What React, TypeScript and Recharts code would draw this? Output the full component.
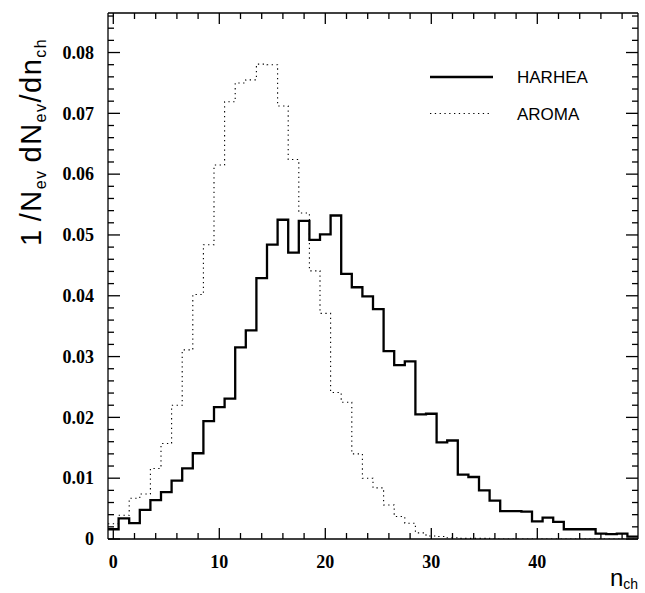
import { ComposedChart, Line, XAxis, YAxis, Legend } from "recharts";

// bin centres n_ch = 0..49 (bin width 1)
const nch = [
  0, 1, 2, 3, 4, 5, 6, 7, 8, 9, 10, 11, 12, 13, 14, 15, 16, 17, 18, 19, 20, 21, 22, 23, 24,
  25, 26, 27, 28, 29, 30, 31, 32, 33, 34, 35, 36, 37, 38, 39, 40, 41, 42, 43, 44, 45, 46, 47, 48, 49,
];

const harhea = [
  0.0016, 0.0034, 0.0026, 0.0048, 0.0064, 0.0077, 0.0096, 0.0116, 0.0141, 0.0194,
  0.0217, 0.0231, 0.0315, 0.0343, 0.0429, 0.0484, 0.0525, 0.0471, 0.0523, 0.0492,
  0.0501, 0.0532, 0.0436, 0.0414, 0.0399, 0.0378, 0.0309, 0.0286, 0.0292, 0.0205,
  0.0206, 0.0159, 0.0162, 0.0106, 0.0102, 0.008, 0.0063, 0.0046, 0.0046, 0.0045,
  0.0029, 0.0035, 0.0028, 0.0016, 0.0016, 0.0016, 0.0009, 0.0008, 0.0009, 0.0004,
];

const aroma = [
  0.0025, 0.0039, 0.0067, 0.0074, 0.0116, 0.0157, 0.022, 0.0311, 0.0402, 0.0484,
  0.0615, 0.0719, 0.075, 0.0755, 0.0781, 0.078, 0.0712, 0.0624, 0.0536, 0.0441,
  0.0371, 0.0241, 0.0225, 0.014, 0.01, 0.0084, 0.0056, 0.0037, 0.0026, 0.001,
  0.0005, 0.0004, 0.0002, 0.0001, 0.0001, 0.0001, 0, 0, 0, 0,
  0, 0, 0, 0, 0, 0, 0, 0, 0, 0,
];

const seriesNames = ["HARHEA", "AROMA"];
const xMajor = [0, 10, 20, 30, 40];
const yMajorLabels = ["0", "0.01", "0.02", "0.03", "0.04", "0.05", "0.06", "0.07", "0.08"];

const xTicks = Array.from({ length: 25 }, (_, i) => i * 2);
const yTicks = Array.from({ length: 44 }, (_, i) => +(i * 0.002).toFixed(3));

// histogram edges: each bin drawn from n-0.5 to n+0.5
const data = nch.map((n, i) => ({ x: n - 0.5, harhea: harhea[i], aroma: aroma[i] }));
data.push({ x: nch[nch.length - 1] + 0.5, harhea: harhea[harhea.length - 1], aroma: aroma[aroma.length - 1] });

const tickFont = { fontFamily: "'Liberation Serif', 'Times New Roman', serif", fontWeight: 700, fontSize: 18 };
const sans = "'Liberation Sans', Arial, Helvetica, sans-serif";
const SW = 1.3;

const isYMajor = (v: number) => Math.abs(v * 100 - Math.round(v * 100)) < 1e-6;

const BottomTick = ({ x, y, payload }: any) => {
  const major = xMajor.includes(payload.value);
  return (
    <g>
      <line x1={x} x2={x} y1={y} y2={y - (major ? 11 : 6)} stroke="#000" strokeWidth={SW} />
      {major && (
        <text x={x} y={y + 29} textAnchor="middle" style={tickFont}>
          {payload.value}
        </text>
      )}
    </g>
  );
};

const TopTick = ({ x, y, payload }: any) => {
  const major = xMajor.includes(payload.value);
  return <line x1={x} x2={x} y1={y} y2={y + (major ? 11 : 6)} stroke="#000" strokeWidth={SW} />;
};

const LeftTick = ({ x, y, payload }: any) => {
  const v = payload.value;
  const major = isYMajor(v);
  return (
    <g>
      <line x1={x} x2={x + (major ? 12 : 6)} y1={y} y2={y} stroke="#000" strokeWidth={SW} />
      {major && (
        <text x={x - 14} y={y} dy="0.35em" textAnchor="end" style={tickFont}>
          {yMajorLabels[Math.round(v * 100)]}
        </text>
      )}
    </g>
  );
};

const RightTick = ({ x, y, payload }: any) => {
  const major = isYMajor(payload.value);
  return <line x1={x} x2={x - (major ? 12 : 6)} y1={y} y2={y} stroke="#000" strokeWidth={SW} />;
};

const renderLegend = () => (
  <svg width={200} height={60}>
    {seriesNames.map((name, i) => {
      const dotted = name === "AROMA";
      const cy = 10 + i * 36.5;
      return (
        <g key={name}>
          <line
            x1={5}
            x2={dotted ? 65 : 68}
            y1={cy}
            y2={cy}
            stroke="#000"
            strokeWidth={dotted ? 1.1 : 2.3}
            strokeDasharray={dotted ? "1.3 3.5" : undefined}
          />
          <text x={92} y={cy} dy="0.36em" style={{ fontFamily: sans, fontSize: 17 }}>
            {name}
          </text>
        </g>
      );
    })}
  </svg>
);

export default function App() {
  return (
    <div style={{ position: "absolute", left: 0, top: 0, width: 645, height: 593, background: "#fff" }}>
      <ComposedChart width={645} height={593} data={data} margin={{ top: 12, right: 6, bottom: 24, left: 48 }}>
        <XAxis
          dataKey="x"
          type="number"
          domain={[-0.5, 49.5]}
          ticks={xTicks}
          interval={0}
          tickSize={0}
          tickMargin={0}
          tick={<BottomTick />}
          height={30}
          axisLine={{ stroke: "#000", strokeWidth: SW }}
          allowDataOverflow
        />
        <XAxis
          xAxisId="top"
          orientation="top"
          dataKey="x"
          type="number"
          domain={[-0.5, 49.5]}
          ticks={xTicks}
          interval={0}
          tickSize={0}
          tickMargin={0}
          tick={<TopTick />}
          height={1}
          axisLine={{ stroke: "#000", strokeWidth: SW }}
          allowDataOverflow
        />
        <YAxis
          type="number"
          domain={[0, 0.0865]}
          ticks={yTicks}
          interval={0}
          tickSize={0}
          tickMargin={0}
          tick={<LeftTick />}
          width={60}
          axisLine={{ stroke: "#000", strokeWidth: SW }}
          allowDataOverflow
        />
        <YAxis
          yAxisId="r"
          orientation="right"
          type="number"
          domain={[0, 0.0865]}
          ticks={yTicks}
          interval={0}
          tickSize={0}
          tickMargin={0}
          tick={<RightTick />}
          width={1}
          axisLine={{ stroke: "#000", strokeWidth: SW }}
          allowDataOverflow
        />
        <Legend
          layout="vertical"
          align="center"
          verticalAlign="middle"
          content={renderLegend}
          wrapperStyle={{ left: 425, top: 67, width: 200, height: 60 }}
        />
        <Line
          name="HARHEA"
          type="stepAfter"
          dataKey="harhea"
          stroke="#000"
          strokeWidth={2.3}
          dot={false}
          isAnimationActive={false}
        />
        <Line
          name="AROMA"
          type="stepAfter"
          dataKey="aroma"
          stroke="#000"
          strokeWidth={1.1}
          strokeDasharray="1.3 3.5"
          dot={false}
          isAnimationActive={false}
        />
      </ComposedChart>
      <svg
        width={645}
        height={593}
        style={{ position: "absolute", left: 0, top: 0, pointerEvents: "none" }}
      >
        <text
          transform="translate(41,246) rotate(-90)"
          style={{ fontFamily: sans, fontSize: 29, letterSpacing: 1.5 }}
        >
          <tspan>1</tspan>
          <tspan dx={7}>/N</tspan>
          <tspan dy={5} fontSize={16}>ev</tspan>
          <tspan dy={-5} dx={7}>dN</tspan>
          <tspan dy={5} fontSize={16}>ev</tspan>
          <tspan dy={-5}>/dn</tspan>
          <tspan dy={5} fontSize={16}>ch</tspan>
        </text>
        <text x={610} y={586} style={{ fontFamily: sans, fontSize: 24 }}>
          <tspan>n</tspan>
          <tspan dy={3} fontSize={14}>ch</tspan>
        </text>
      </svg>
    </div>
  );
}
